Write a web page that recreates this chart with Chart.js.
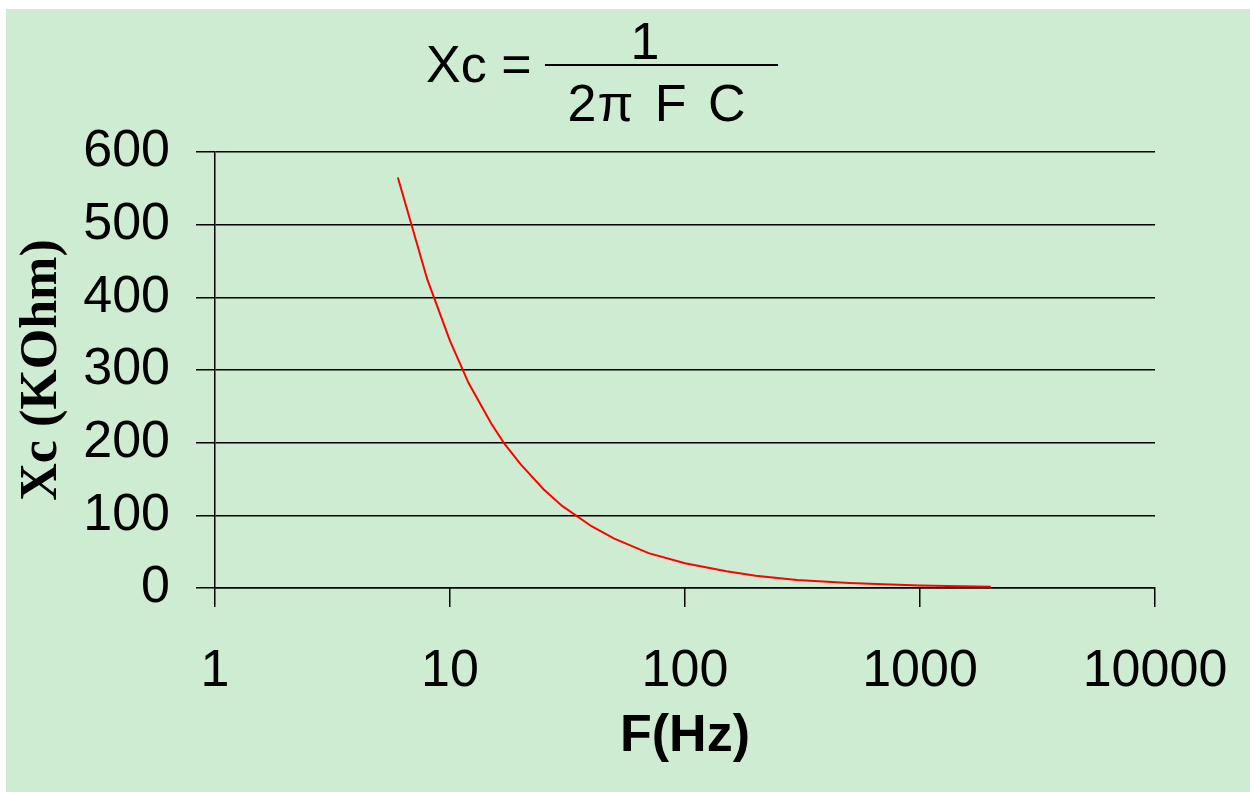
<!DOCTYPE html>
<html>
<head>
<meta charset="utf-8">
<script src="https://cdn.jsdelivr.net/npm/chart.js@4.4.1/dist/chart.umd.min.js"></script>
<style>
  html, body { margin: 0; padding: 0; background: #ffffff; width: 1250px; height: 792px; overflow: hidden; }
  #box { position: absolute; left: 6px; top: 9px; width: 1244px; height: 783px; background: rgb(205,236,209); }
  #chart { position: absolute; left: 0; top: 0; width: 1244px; height: 783px; }
  .f { position: absolute; font-family: "Liberation Sans", Arial, sans-serif; font-size: 52px; line-height: 52px; color: #000; white-space: nowrap; }
  #bar { position: absolute; left: 539px; top: 55px; width: 233px; height: 2px; background: #000; }
</style>
</head>
<body>
<div id="box">
  <div id="chart"><canvas id="c"></canvas></div>
  <span class="f" id="lhs" style="left:420px; top:29px;">Xc =</span>
  <span class="f" id="num" style="left:639px; top:6px; transform:translateX(-50%);">1</span>
  <div id="bar"></div>
  <span class="f" id="den" style="left:651px; top:68px; transform:translateX(-50%); word-spacing:5px; letter-spacing:1px;">2π F C</span>
</div>
<script>
const freqHz = [6, 8, 10, 12, 15, 17, 20, 25, 30, 40, 50, 70, 100, 150, 200, 300, 500, 700, 1000, 1500, 2000];
const xcKOhm = [565, 425, 340, 282, 226, 199, 170, 136, 113, 85, 68, 48, 34, 23, 17, 11, 7, 5, 3.4, 2.3, 1.7];
const xTicks = [1, 10, 100, 1000, 10000];
const yTicks = [0, 100, 200, 300, 400, 500, 600];
const xTitle = "F(Hz)";
const yTitle = "Xc (KOhm)";

const points = freqHz.map((f, i) => ({ x: f, y: xcKOhm[i] }));
const tickFont = { family: "'Liberation Sans', Arial, sans-serif", size: 52, lineHeight: 1.2 };

new Chart(document.getElementById('c'), {
  type: 'line',
  data: {
    datasets: [{
      data: points,
      borderColor: '#ff0000',
      borderWidth: 2,
      pointRadius: 0,
      tension: 0,
      fill: false
    }]
  },
  options: {
    responsive: true,
    maintainAspectRatio: false,
    animation: false,
    layout: { padding: { left: 0, top: 143, right: 95, bottom: 0 } },
    plugins: { legend: { display: false }, tooltip: { enabled: false }, title: { display: false } },
    scales: {
      x: {
        type: 'logarithmic',
        min: xTicks[0],
        max: xTicks[xTicks.length - 1],
        afterBuildTicks: (s) => { s.ticks = xTicks.map(v => ({ value: v, major: true })); },
        afterFit: (s) => { s.height = 204; s.paddingLeft = 0; s.paddingRight = 0; },
        ticks: {
          color: '#000',
          font: tickFont,
          padding: 33,
          maxRotation: 0,
          autoSkip: false,
          callback: (v) => String(v)
        },
        grid: { drawOnChartArea: false, drawTicks: true, tickLength: 19, color: '#000', lineWidth: 1.5 },
        border: { display: true, color: '#000', width: 1.5 },
        title: {
          display: true,
          text: xTitle,
          color: '#000',
          font: { family: "'Liberation Sans', Arial, sans-serif", size: 52, weight: 'bold', lineHeight: 1.2 },
          padding: { top: 0, bottom: 24 }
        }
      },
      y: {
        type: 'linear',
        min: yTicks[0],
        max: yTicks[yTicks.length - 1],
        afterBuildTicks: (s) => { s.ticks = yTicks.map(v => ({ value: v })); },
        afterFit: (s) => { s.width = 209; },
        ticks: { color: '#000', font: tickFont, padding: 26 },
        grid: { color: '#000', lineWidth: 1.5, tickLength: 19, drawTicks: true },
        border: { display: true, color: '#000', width: 1.5 },
        title: {
          display: true,
          text: yTitle,
          color: '#000',
          font: { family: "'Liberation Serif', 'Times New Roman', serif", size: 52, weight: 'bold', lineHeight: 1.2 },
          padding: { top: 5, bottom: 0 }
        }
      }
    }
  }
});
</script>
</body>
</html>
